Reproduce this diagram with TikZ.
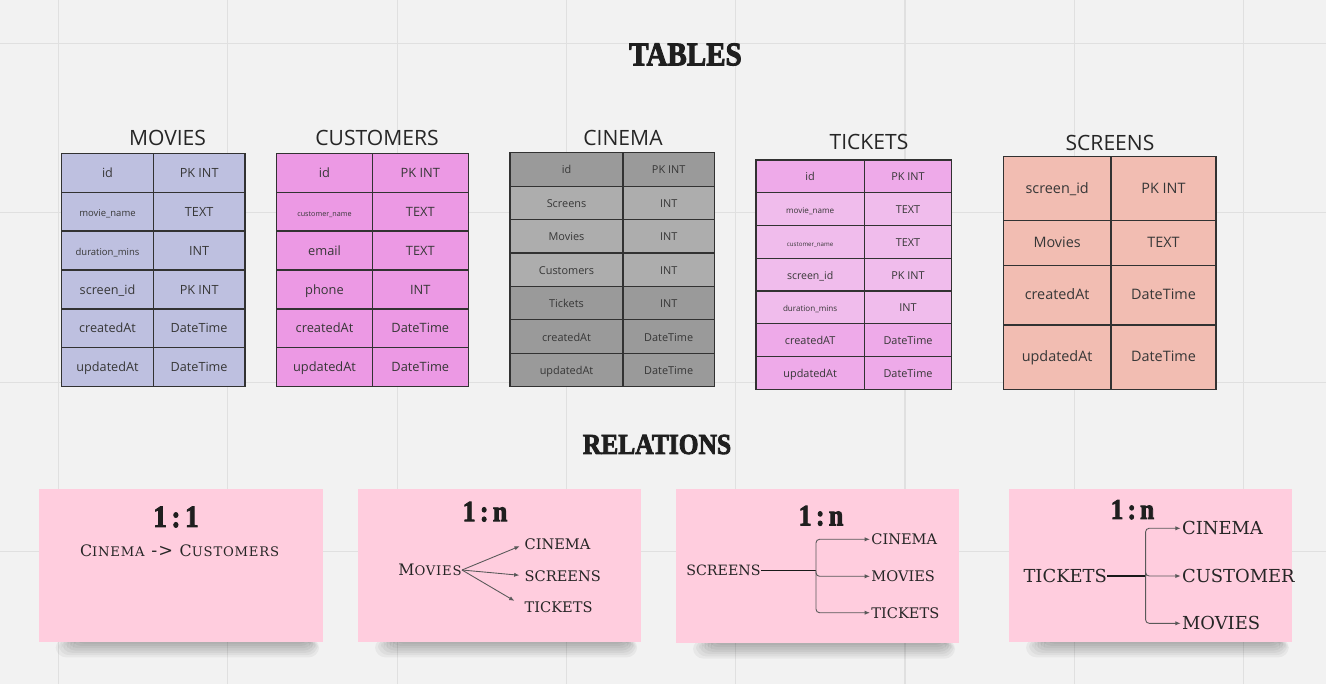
\documentclass[tikz,border=0pt]{standalone}
\usepackage{fontspec}
\setmainfont{Open Sans}
\newfontfamily\slab{DejaVu Serif}
\newfontfamily\slabsp[LetterSpace=6]{DejaVu Serif}
\newfontfamily\heavy[FakeBold=3]{Liberation Serif Bold}
\usetikzlibrary{arrows.meta,positioning}

\definecolor{bgc}{RGB}{242,242,242}
\definecolor{gridc}{RGB}{224,224,224}
\definecolor{tline}{RGB}{50,50,50}
\definecolor{ttext}{RGB}{55,55,55}
\definecolor{movc}{RGB}{190,192,224}
\definecolor{cusc}{RGB}{236,153,228}
\definecolor{cinD}{RGB}{154,154,154}
\definecolor{cinL}{RGB}{173,173,173}
\definecolor{tikD}{RGB}{238,170,233}
\definecolor{tikL}{RGB}{240,188,236}
\definecolor{scrc}{RGB}{242,189,178}
\definecolor{notec}{RGB}{255,205,222}

\newcommand\capsm[2]{{\fontsize{9}{10}\selectfont#1}{\fontsize{7.5}{9}\selectfont#2}}

\tikzset{
  tcell/.style={draw=tline, line width=0.7pt, inner sep=0pt, outer sep=0pt, anchor=north west, text=ttext,
    text height=0.72em, text depth=0.2em},
  tabtitle/.style={text=black!85, inner sep=0pt, font=\fontsize{12}{14}\selectfont},
  bigtitle/.style={text=black!88, inner sep=0pt},
  rellabel/.style={text=black!85, inner sep=0pt},
  relarrow/.style={-{Latex[length=3pt,width=2.4pt]}, draw=black!65, line width=0.5pt},
  trunk/.style={draw=black!90, line width=0.6pt}
}

\begin{document}
\begin{tikzpicture}[x=0.02cm, y=-0.02cm]
\fill[bgc] (0,0) rectangle (1326,684);
\useasboundingbox (0,0) rectangle (1326,684);
\foreach \gx in {58.5,227.8,397.1,566.4,735.7,905,1074.3,1243.6}
    \draw[gridc, line width=0.6pt] (\gx,0) -- (\gx,684);
\foreach \gy in {43.5,212.8,382.1,551.4}
    \draw[gridc, line width=0.6pt] (0,\gy) -- (1326,\gy);

\node[bigtitle, font=\heavy\fontsize{18.8}{20}\selectfont] (tables) at (685.5,54.5) {\scalebox{0.88}[1]{TABLES}};
\node[bigtitle, font=\heavy\fontsize{16.5}{18}\selectfont] (relations) at (657,444.5) {\scalebox{0.88}[1]{RELATIONS}};

% movies
\node[tabtitle] (movies) at (167.5,138) {MOVIES};
\foreach \nm/\ty/\sz [count=\i] in {id/PK INT/7.2, movie\_name/TEXT/5.4, duration\_mins/INT/5.4,
    screen\_id/PK INT/7.2, createdAt/DateTime/7.2, updatedAt/DateTime/7.2}{
  \node[tcell, fill=movc, minimum width=91.6*0.02cm, minimum height=38.9*0.02cm, font=\fontsize{\sz}{\sz}\selectfont] (mov-n\i) at (61.7,{153.3+38.9*(\i-1)}) {\nm};
  \node[tcell, fill=movc, minimum width=91.7*0.02cm, minimum height=38.9*0.02cm, font=\fontsize{7.2}{8}\selectfont] (mov-t\i) at (mov-n\i.north east) {\ty};
}

% customers
\node[tabtitle] (customers) at (377,138) {CUSTOMERS};
\foreach \nm/\ty/\sz [count=\i] in {id/PK INT/7.3, customer\_name/TEXT/4.1, email/TEXT/7.3,
    phone/INT/7.3, createdAt/DateTime/7.3, updatedAt/DateTime/7.3}{
  \node[tcell, fill=cusc, minimum width=95.6*0.02cm, minimum height=38.9*0.02cm, font=\fontsize{\sz}{\sz}\selectfont] (cus-n\i) at (276.7,{153.3+38.9*(\i-1)}) {\nm};
  \node[tcell, fill=cusc, minimum width=96*0.02cm, minimum height=38.9*0.02cm, font=\fontsize{7.3}{8}\selectfont] (cus-t\i) at (cus-n\i.north east) {\ty};
}

% cinema
\node[tabtitle] (cinema) at (623,138) {CINEMA};
\foreach \nm/\ty/\fc [count=\i] in {id/PK INT/cinD, Screens/INT/cinL, Movies/INT/cinL, Customers/INT/cinL,
    Tickets/INT/cinD, createdAt/DateTime/cinD, updatedAt/DateTime/cinD}{
  \node[tcell, fill=\fc, minimum width=113*0.02cm, minimum height=33.43*0.02cm, font=\fontsize{6.2}{7}\selectfont] (cin-n\i) at (510,{152.7+33.43*(\i-1)}) {\nm};
  \node[tcell, fill=\fc, minimum width=91.3*0.02cm, minimum height=33.43*0.02cm, font=\fontsize{6.2}{7}\selectfont] (cin-t\i) at (cin-n\i.north east) {\ty};
}

% tickets
\node[tabtitle] (tickets) at (869,141.7) {TICKETS};
\foreach \nm/\ty/\sz/\fc [count=\i] in {id/PK INT/6.2/tikD, movie\_name/TEXT/4.6/tikL, customer\_name/TEXT/3.5/tikL,
    screen\_id/PK INT/6/tikL, duration\_mins/INT/4.6/tikL, createdAT/DateTime/6.2/tikD, updatedAt/DateTime/6.2/tikD}{
  \node[tcell, fill=\fc, minimum width=108.3*0.02cm, minimum height=32.76*0.02cm, font=\fontsize{\sz}{\sz}\selectfont] (tik-n\i) at (756,{160+32.76*(\i-1)}) {\nm};
  \node[tcell, fill=\fc, minimum width=87.4*0.02cm, minimum height=32.76*0.02cm, font=\fontsize{6.2}{7}\selectfont] (tik-t\i) at (tik-n\i.north east) {\ty};
}

% screens
\node[tabtitle] (screens) at (1110,142.7) {SCREENS};
\foreach \yt/\rh/\nm/\ty [count=\i] in {156.7/64/screen\_id/PK INT, 220.7/45/Movies/TEXT,
    265.7/59.3/createdAt/DateTime, 325/64.3/updatedAt/DateTime}{
  \node[tcell, fill=scrc, minimum width=107.7*0.02cm, minimum height=\rh*0.02cm, font=\fontsize{8.2}{9}\selectfont] (scr-n\i) at (1003.3,\yt) {\nm};
  \node[tcell, fill=scrc, minimum width=105*0.02cm, minimum height=\rh*0.02cm, font=\fontsize{8.2}{9}\selectfont] (scr-t\i) at (scr-n\i.north east) {\ty};
}

% sticky notes with their shadow
\foreach \xl/\yt/\xr/\yb in {38.7/488.7/322.6/641.7, 358/489.3/640.7/641.7, 676/489/958.6/643, 1009/489/1292.3/641.7}{
  \foreach \k in {1,...,7}
    \fill[black, opacity=0.045, rounded corners=6pt] ({\xl+14+3*\k},{\yb-4}) rectangle ({\xr-2-1.5*\k},{\yb+18-2.3*\k});
  \fill[notec] (\xl,\yt) rectangle (\xr,\yb);
}

% 1:1
\node[bigtitle, font=\heavy\fontsize{17.6}{18}\selectfont] (one1) at (176,517) {\scalebox{0.88}[1]{1\,:\,1}};
\node[rellabel, font=\slabsp] (cinecus) at (179.6,551) {\capsm{C}{INEMA} -> \capsm{C}{USTOMERS}};

% 1:n movies
\node[bigtitle, font=\heavy\fontsize{16.8}{18}\selectfont] (onen2) at (485,511.7) {\scalebox{0.88}[1]{1\,:\,n}};
\node[rellabel, font=\slabsp, anchor=east] (mov2) at (462,570) {\capsm{M}{OVIES}};
\node[rellabel, font=\slab\fontsize{8.3}{10}\selectfont, anchor=west] (cin2) at (524.3,544.3) {CINEMA};
\node[rellabel, font=\slab\fontsize{8.3}{10}\selectfont, anchor=west] (scr2) at (524.3,575.7) {SCREENS};
\node[rellabel, font=\slab\fontsize{8.3}{10}\selectfont, anchor=west] (tik2) at (524.3,606.7) {TICKETS};
\draw[relarrow, shorten >=2.8pt] (mov2.east) -- (cin2.west);
\draw[relarrow, shorten >=2.8pt] (mov2.east) -- (scr2.west);
\draw[relarrow, shorten >=6.5pt] (mov2.east) -- (tik2.west);

% 1:n screens
\node[bigtitle, font=\heavy\fontsize{16.8}{18}\selectfont] (onen3) at (821,515.8) {\scalebox{0.88}[1]{1\,:\,n}};
\node[rellabel, font=\slab\fontsize{8.1}{10}\selectfont, anchor=east] (scr3) at (761,570.7) {SCREENS};
\coordinate (fork3) at (816,570.7);
\node[rellabel, font=\slab\fontsize{8.3}{10}\selectfont, anchor=west] (cin3) at (871,539.3) {CINEMA};
\node[rellabel, font=\slab\fontsize{8.3}{10}\selectfont, anchor=west] (mov3) at (871,576.3) {MOVIES};
\node[rellabel, font=\slab\fontsize{8.3}{10}\selectfont, anchor=west] (tik3) at (871,612.7) {TICKETS};
\draw[trunk] (scr3.east) -- (fork3);
\foreach \dst in {cin3,mov3,tik3}
    \draw[relarrow, rounded corners=2pt, shorten >=0.6pt] (fork3) |- (\dst.west);

% 1:n tickets
\node[bigtitle, font=\heavy\fontsize{16.3}{18}\selectfont] (onen4) at (1132.5,509.7) {\scalebox{0.88}[1]{1\,:\,n}};
\node[rellabel, font=\slab\fontsize{10.2}{12}\selectfont, anchor=east] (tik4) at (1107.3,576) {TICKETS};
\coordinate (fork4) at (1145.6,576);
\node[rellabel, font=\slab\fontsize{10.2}{12}\selectfont, anchor=west] (cin4) at (1181.7,528.3) {CINEMA};
\node[rellabel, font=\slab\fontsize{10.2}{12}\selectfont, anchor=west] (cus4) at (1181.7,576) {CUSTOMER};
\node[rellabel, font=\slab\fontsize{10.2}{12}\selectfont, anchor=west] (mov4) at (1181.7,623.3) {MOVIES};
\draw[trunk] (tik4.east) -- (fork4);
\foreach \dst in {cin4,cus4,mov4}
    \draw[relarrow, rounded corners=2pt, shorten >=0.6pt] (fork4) |- (\dst.west);
\end{tikzpicture}
\end{document}
